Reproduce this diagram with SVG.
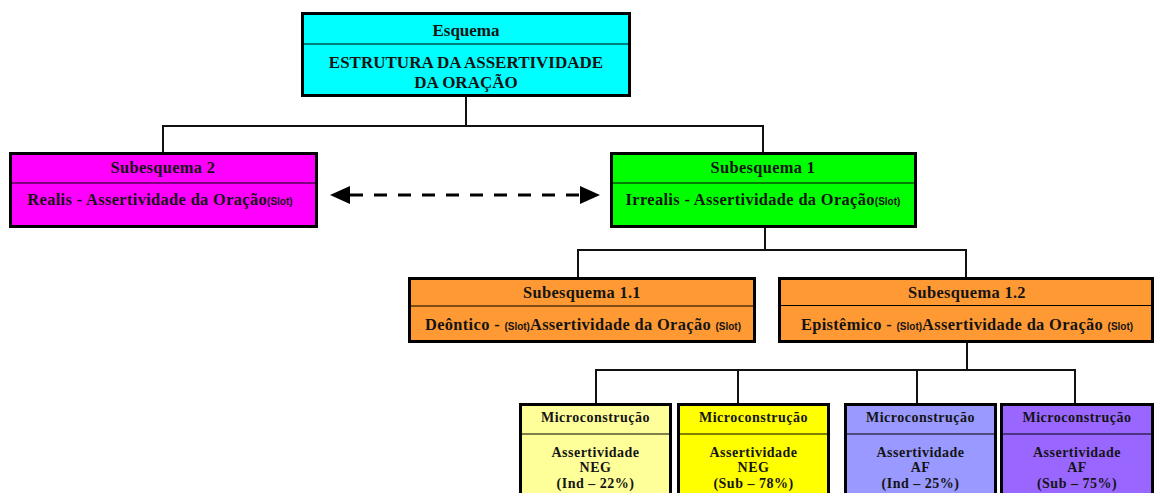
<svg xmlns="http://www.w3.org/2000/svg" width="1155" height="493" viewBox="0 0 1155 493">
<defs>
<style>
.box{stroke:#000;stroke-width:3}
.div{stroke:#000;stroke-width:1.2}
.conn{fill:none;stroke:#111;stroke-width:2}
.t{font-family:"Liberation Serif","Times New Roman",serif;font-weight:bold;fill:#141414;text-anchor:middle}
.h0{font-size:17px}
.h1{font-size:16.4px;letter-spacing:0.35px}
.h2{font-size:14px;letter-spacing:0.5px}
.slot{font-family:"Liberation Sans",Arial,sans-serif;font-size:10px;font-weight:bold;letter-spacing:0}
</style>
<marker id="ah" markerWidth="20" markerHeight="18" refX="0" refY="9" orient="auto-start-reverse" markerUnits="userSpaceOnUse" viewBox="0 0 20 18">
<path d="M0,0 L20,9 L0,18 z" fill="#000"/>
</marker>
</defs>
<rect width="1155" height="493" fill="#fff"/>

<g id="connectors">
<polyline class="conn" points="466,97 466,126"/>
<polyline class="conn" points="163,152 163,126 763,126 763,152"/>
<polyline class="conn" points="765,228 765,250"/>
<polyline class="conn" points="578,277 578,250 966,250 966,277"/>
<polyline class="conn" points="967,343 967,370"/>
<polyline class="conn" points="596,403 596,370 1075,370 1075,403"/>
<line class="conn" x1="738" y1="370" x2="738" y2="403"/>
<line class="conn" x1="917" y1="370" x2="917" y2="403"/>
<line x1="350" y1="195" x2="580" y2="195" stroke="#000" stroke-width="3" stroke-dasharray="13 11" marker-start="url(#ah)" marker-end="url(#ah)"/>
</g>

<g id="esquema">
<rect class="box" x="302.5" y="13.5" width="327" height="82" fill="#00FFFF"/>
<line class="div" x1="302" y1="44" x2="630" y2="44"/>
<text class="t h0" x="466" y="36">Esquema</text>
<text class="t h0" x="466" y="68">ESTRUTURA DA ASSERTIVIDADE</text>
<text class="t h0" x="466" y="88">DA ORAÇÃO</text>
</g>

<g id="sub2">
<rect class="box" x="10.5" y="153.5" width="306" height="73" fill="#FF00FF"/>
<line class="div" x1="10" y1="183" x2="317" y2="183"/>
<text class="t h1" x="163" y="173">Subesquema 2</text>
<text class="t h1" x="160" y="205">Realis - Assertividade da Oração<tspan class="slot">(Slot)</tspan></text>
</g>

<g id="sub1">
<rect class="box" x="611.5" y="153.5" width="304" height="73" fill="#00FF00"/>
<line class="div" x1="611" y1="183" x2="916" y2="183"/>
<text class="t h1" x="763" y="173">Subesquema 1</text>
<text class="t h1" x="763" y="205">Irrealis - Assertividade da Oração<tspan class="slot">(Slot)</tspan></text>
</g>

<g id="sub1-1">
<rect class="box" x="409.5" y="278.5" width="345" height="63" fill="#FF9933"/>
<line class="div" x1="409" y1="306" x2="755" y2="306"/>
<text class="t h1" x="582" y="298">Subesquema 1.1</text>
<text class="t h1" x="583" y="330">Deôntico - <tspan class="slot">(Slot)</tspan>Assertividade da Oração <tspan class="slot">(Slot)</tspan></text>
</g>

<g id="sub1-2">
<rect class="box" x="779.5" y="278.5" width="373" height="63" fill="#FF9933"/>
<line class="div" x1="779" y1="305.5" x2="1153" y2="305.5"/>
<text class="t h1" x="967" y="298">Subesquema 1.2</text>
<text class="t h1" x="967" y="330">Epistêmico - <tspan class="slot">(Slot)</tspan>Assertividade da Oração <tspan class="slot">(Slot)</tspan></text>
</g>

<g id="micro1">
<rect class="box" x="520.5" y="404.5" width="150" height="100" fill="#FFFF99"/>
<line class="div" x1="520" y1="434" x2="671" y2="434"/>
<text class="t h2" x="595.5" y="422">Microconstrução</text>
<text class="t h2" x="595.5" y="457">Assertividade</text>
<text class="t h2" x="595.5" y="472">NEG</text>
<text class="t h2" x="595.5" y="488">(Ind – 22%)</text>
</g>

<g id="micro2">
<rect class="box" x="678.5" y="404.5" width="150" height="100" fill="#FFFF00"/>
<line class="div" x1="678" y1="434" x2="829" y2="434"/>
<text class="t h2" x="753.5" y="422">Microconstrução</text>
<text class="t h2" x="753.5" y="457">Assertividade</text>
<text class="t h2" x="753.5" y="472">NEG</text>
<text class="t h2" x="753.5" y="488">(Sub – 78%)</text>
</g>

<g id="micro3">
<rect class="box" x="845.5" y="404.5" width="150" height="100" fill="#9999FF"/>
<line class="div" x1="845" y1="434" x2="996" y2="434"/>
<text class="t h2" x="920.5" y="422">Microconstrução</text>
<text class="t h2" x="920.5" y="457">Assertividade</text>
<text class="t h2" x="920.5" y="472">AF</text>
<text class="t h2" x="920.5" y="488">(Ind – 25%)</text>
</g>

<g id="micro4">
<rect class="box" x="1001.5" y="404.5" width="151" height="100" fill="#9966FF"/>
<line class="div" x1="1001" y1="434" x2="1153" y2="434"/>
<text class="t h2" x="1077" y="422">Microconstrução</text>
<text class="t h2" x="1077" y="457">Assertividade</text>
<text class="t h2" x="1077" y="472">AF</text>
<text class="t h2" x="1077" y="488">(Sub – 75%)</text>
</g>
</svg>
